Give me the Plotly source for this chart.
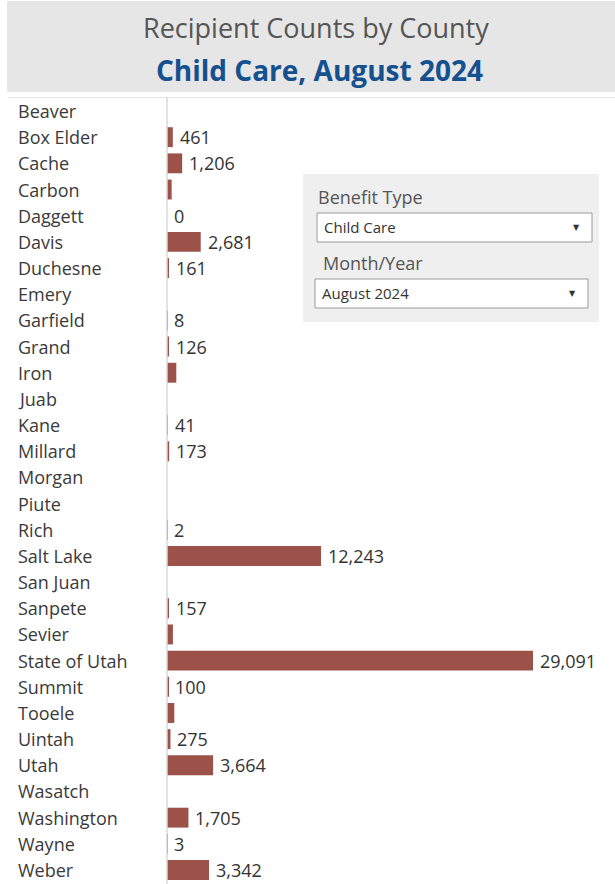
import plotly.graph_objects as go

# Recipient counts per county (None = no value reported)
counties = [
    "Beaver", "Box Elder", "Cache", "Carbon", "Daggett", "Davis", "Duchesne",
    "Emery", "Garfield", "Grand", "Iron", "Juab", "Kane", "Millard", "Morgan",
    "Piute", "Rich", "Salt Lake", "San Juan", "Sanpete", "Sevier",
    "State of Utah", "Summit", "Tooele", "Uintah", "Utah", "Wasatch",
    "Washington", "Wayne", "Weber",
]
counts = [
    None, 461, 1206, 370, 0, 2681, 161,
    None, 8, 126, 740, None, 41, 173, None,
    None, 2, 12243, None, 157, 470,
    29091, 100, 580, 275, 3664, None,
    1705, 3, 3342,
]
# Whether the count is printed next to the bar
labeled = [
    False, True, True, False, True, True, True,
    False, True, True, False, False, True, True, False,
    False, True, True, False, True, False,
    True, True, False, True, True, False,
    True, True, True,
]

title_top = "Recipient Counts by County"
title_sub = "Child Care, August 2024"
filter_benefit = ("Benefit Type", "Child Care")
filter_month = ("Month/Year", "August 2024")

W, H = 615, 884
BAR = "#9c5149"
FONT = "Open Sans"


def px(x):
    return x / W


def py(y):
    return 1 - y / H


plot_left, plot_top, plot_bottom = 167, 97, 884
max_bar_end = 533  # pixel where the largest bar ends
x_max = max(c for c in counts if c is not None) * (W - plot_left) / (max_bar_end - plot_left)

fig = go.Figure(
    go.Bar(
        x=counts,
        y=counties,
        orientation="h",
        marker=dict(color=BAR, line=dict(width=0)),
        hoverinfo="skip",
    )
)

annotations = []
# county names, left aligned
for name in counties:
    annotations.append(dict(
        x=px(16), xref="paper", y=name, yref="y", text=name, showarrow=False,
        xanchor="left", yanchor="middle",
        font=dict(family=FONT, size=18, color="#3a3a3a"),
    ))
# value labels just past each bar end
for name, val, show in zip(counties, counts, labeled):
    if val is None or not show:
        continue
    annotations.append(dict(
        x=val, xref="x", y=name, yref="y", text=f"{val:,}", showarrow=False,
        xanchor="left", yanchor="middle", xshift=5,
        font=dict(family=FONT, size=18, color="#333333"),
    ))

# heading
annotations.append(dict(
    x=px(316), y=py(27), xref="paper", yref="paper", text=title_top,
    showarrow=False, xanchor="center", yanchor="middle",
    font=dict(family=FONT, size=27, color="#555555"),
))
annotations.append(dict(
    x=px(319), y=py(70), xref="paper", yref="paper", text=f"<b>{title_sub}</b>",
    showarrow=False, xanchor="center", yanchor="middle",
    font=dict(family=FONT, size=28, color="#15508f"),
))

# filter panel captions and dropdown values
for (cap, val), cap_x, cap_y, box in [
    (filter_benefit, 316, 197, (317, 213, 592, 242)),
    (filter_month, 321, 263, (315, 279, 588, 308)),
]:
    annotations.append(dict(
        x=px(cap_x), y=py(cap_y), xref="paper", yref="paper", text=cap,
        showarrow=False, xanchor="left", yanchor="middle",
        font=dict(family=FONT, size=18, color="#555555"),
    ))
    x0, y0, x1, y1 = box
    annotations.append(dict(
        x=px(x0 + 5), y=py((y0 + y1) / 2), xref="paper", yref="paper", text=val,
        showarrow=False, xanchor="left", yanchor="middle",
        font=dict(family=FONT, size=15, color="#333333"),
    ))
    annotations.append(dict(
        x=px(x1 - 16), y=py((y0 + y1) / 2), xref="paper", yref="paper", text="▼",
        showarrow=False, xanchor="center", yanchor="middle",
        font=dict(family="DejaVu Sans", size=8, color="#333333"),
    ))

shapes = [
    # heading band
    dict(type="rect", xref="paper", yref="paper", x0=px(7), x1=1, y0=py(92), y1=py(1),
         fillcolor="#e6e6e6", line=dict(width=0), layer="below"),
    # top rule of the chart
    dict(type="line", xref="paper", yref="paper", x0=px(8), x1=1, y0=py(97.5), y1=py(97.5),
         line=dict(color="#e3e3e3", width=1)),
    # axis line
    dict(type="line", xref="paper", yref="paper", x0=px(167), x1=px(167), y0=0, y1=py(97.5),
         line=dict(color="#d8d8d8", width=1.5)),
    # filter panel
    dict(type="rect", xref="paper", yref="paper", x0=px(303), x1=px(599), y0=py(322), y1=py(174),
         fillcolor="#efefef", line=dict(width=0), layer="above"),
    dict(type="rect", xref="paper", yref="paper", x0=px(317), x1=px(592), y0=py(242), y1=py(213),
         fillcolor="#ffffff", line=dict(color="#9a9a9a", width=1), layer="above"),
    dict(type="rect", xref="paper", yref="paper", x0=px(315), x1=px(588), y0=py(308), y1=py(279),
         fillcolor="#ffffff", line=dict(color="#9a9a9a", width=1), layer="above"),
]

fig.update_layout(
    width=W, height=H,
    margin=dict(l=0, r=0, t=0, b=0),
    paper_bgcolor="white", plot_bgcolor="white",
    showlegend=False,
    bargap=0.24,
    xaxis=dict(domain=[px(plot_left), 1], range=[0, x_max], visible=False, fixedrange=True),
    yaxis=dict(domain=[py(plot_bottom), py(plot_top)], categoryorder="array",
               categoryarray=counties, autorange="reversed", visible=False, fixedrange=True),
    annotations=annotations,
    shapes=shapes,
)

fig.write_html("out.html", config={"displayModeBar": False})
